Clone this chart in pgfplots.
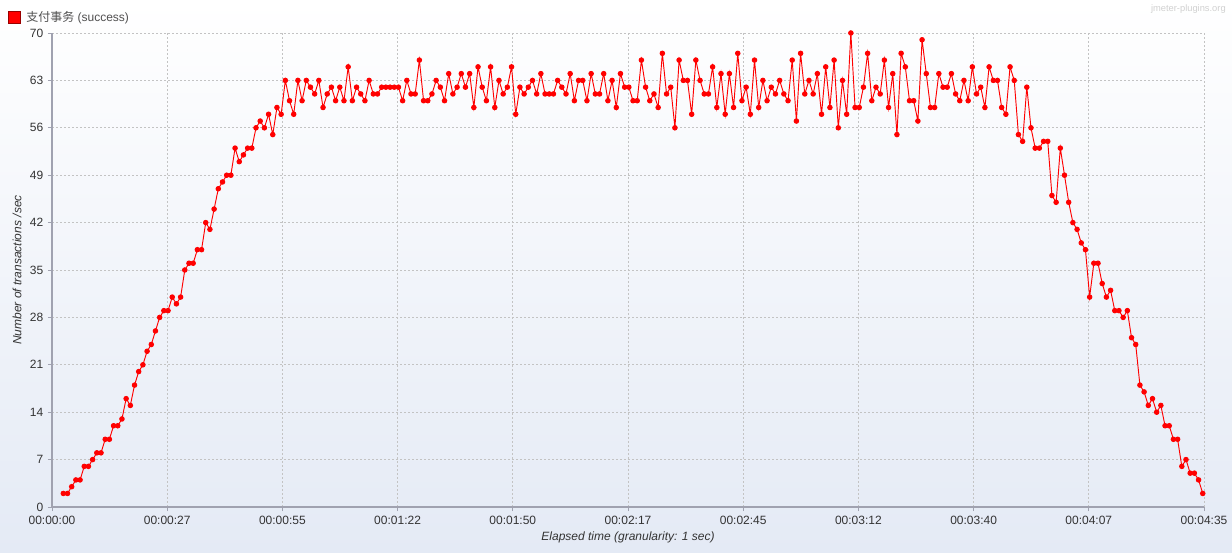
\documentclass[border=0pt]{standalone}
\usepackage{fontspec}
\setmainfont{Liberation Sans}
\newfontfamily\cjk{Noto Sans CJK SC}
\usepackage{pgfplots}
\pgfplotsset{compat=1.18}

\definecolor{bgbottom}{RGB}{228,234,245}
\definecolor{axisgray}{RGB}{160,162,176}
\definecolor{gridgray}{RGB}{195,195,195}
\definecolor{labelgray}{RGB}{51,51,51}
\definecolor{legendgray}{RGB}{80,80,80}

\begin{document}
\begin{tikzpicture}
% whole canvas, 1 px = 0.75 pt, origin at the plot's lower left corner
\path[use as bounding box] (-39pt,-34.5pt) rectangle (885pt,380.25pt);
\shade[top color=white,bottom color=bgbottom] (-39pt,-34.5pt) rectangle (885pt,380.25pt);

\begin{axis}[
    at={(0pt,0pt)}, anchor=south west,
    scale only axis,
    width=864pt, height=355.5pt,
    xmin=0, xmax=275,
    ymin=0, ymax=70,
    axis lines=left,
    axis line style={axisgray,-,line width=0.8pt},
    tick align=outside,
    major tick length=3pt,
    tick style={axisgray,line width=0.6pt},
    xtick={0,27.5,55,82.5,110,137.5,165,192.5,220,247.5,275},
    xticklabels={00:00:00,00:00:27,00:00:55,00:01:22,00:01:50,00:02:17,00:02:45,00:03:12,00:03:40,00:04:07,00:04:35},
    ytick={0,7,14,21,28,35,42,49,56,63,70},
    /pgf/number format/assume math mode=true,
    ticklabel style={font=\fontsize{9}{10}\selectfont,text=labelgray},
    grid=major,
    major grid style={gridgray,dash pattern=on 1.5pt off 1.5pt,line width=0.6pt},
    clip=false,
]
\addplot[color=red, line width=0.7pt, mark=*, mark size=1.7pt, mark options={fill=red,draw=red}]
coordinates {
(2.7,2)(3.7,2)(4.7,3)(5.7,4)(6.7,4)(7.7,6)(8.7,6)(9.7,7)(10.7,8)(11.7,8)
(12.7,10)(13.7,10)(14.7,12)(15.7,12)(16.7,13)(17.7,16)(18.7,15)(19.7,18)(20.7,20)(21.7,21)
(22.7,23)(23.7,24)(24.7,26)(25.7,28)(26.7,29)(27.7,29)(28.7,31)(29.7,30)(30.7,31)(31.7,35)
(32.7,36)(33.7,36)(34.7,38)(35.7,38)(36.7,42)(37.7,41)(38.7,44)(39.7,47)(40.7,48)(41.7,49)
(42.7,49)(43.7,53)(44.7,51)(45.7,52)(46.7,53)(47.7,53)(48.7,56)(49.7,57)(50.7,56)(51.7,58)
(52.7,55)(53.7,59)(54.7,58)(55.7,63)(56.7,60)(57.7,58)(58.7,63)(59.7,60)(60.7,63)(61.7,62)
(62.7,61)(63.7,63)(64.7,59)(65.7,61)(66.7,62)(67.7,60)(68.7,62)(69.7,60)(70.7,65)(71.7,60)
(72.7,62)(73.7,61)(74.7,60)(75.7,63)(76.7,61)(77.7,61)(78.7,62)(79.7,62)(80.7,62)(81.7,62)
(82.7,62)(83.7,60)(84.7,63)(85.7,61)(86.7,61)(87.7,66)(88.7,60)(89.7,60)(90.7,61)(91.7,63)
(92.7,62)(93.7,60)(94.7,64)(95.7,61)(96.7,62)(97.7,64)(98.7,62)(99.7,64)(100.7,59)(101.7,65)
(102.7,62)(103.7,60)(104.7,65)(105.7,59)(106.7,63)(107.7,61)(108.7,62)(109.7,65)(110.7,58)(111.7,62)
(112.7,61)(113.7,62)(114.7,63)(115.7,61)(116.7,64)(117.7,61)(118.7,61)(119.7,61)(120.7,63)(121.7,62)
(122.7,61)(123.7,64)(124.7,60)(125.7,63)(126.7,63)(127.7,60)(128.7,64)(129.7,61)(130.7,61)(131.7,64)
(132.7,60)(133.7,63)(134.7,59)(135.7,64)(136.7,62)(137.7,62)(138.7,60)(139.7,60)(140.7,66)(141.7,62)
(142.7,60)(143.7,61)(144.7,59)(145.7,67)(146.7,61)(147.7,62)(148.7,56)(149.7,66)(150.7,63)(151.7,63)
(152.7,58)(153.7,66)(154.7,63)(155.7,61)(156.7,61)(157.7,65)(158.7,59)(159.7,64)(160.7,58)(161.7,64)
(162.7,59)(163.7,67)(164.7,60)(165.7,62)(166.7,58)(167.7,66)(168.7,59)(169.7,63)(170.7,60)(171.7,62)
(172.7,61)(173.7,63)(174.7,61)(175.7,60)(176.7,66)(177.7,57)(178.7,67)(179.7,61)(180.7,63)(181.7,61)
(182.7,64)(183.7,58)(184.7,65)(185.7,59)(186.7,66)(187.7,56)(188.7,63)(189.7,58)(190.7,70)(191.7,59)
(192.7,59)(193.7,62)(194.7,67)(195.7,60)(196.7,62)(197.7,61)(198.7,66)(199.7,59)(200.7,64)(201.7,55)
(202.7,67)(203.7,65)(204.7,60)(205.7,60)(206.7,57)(207.7,69)(208.7,64)(209.7,59)(210.7,59)(211.7,64)
(212.7,62)(213.7,62)(214.7,64)(215.7,61)(216.7,60)(217.7,63)(218.7,60)(219.7,65)(220.7,61)(221.7,62)
(222.7,59)(223.7,65)(224.7,63)(225.7,63)(226.7,59)(227.7,58)(228.7,65)(229.7,63)(230.7,55)(231.7,54)
(232.7,62)(233.7,56)(234.7,53)(235.7,53)(236.7,54)(237.7,54)(238.7,46)(239.7,45)(240.7,53)(241.7,49)
(242.7,45)(243.7,42)(244.7,41)(245.7,39)(246.7,38)(247.7,31)(248.7,36)(249.7,36)(250.7,33)(251.7,31)
(252.7,32)(253.7,29)(254.7,29)(255.7,28)(256.7,29)(257.7,25)(258.7,24)(259.7,18)(260.7,17)(261.7,15)
(262.7,16)(263.7,14)(264.7,15)(265.7,12)(266.7,12)(267.7,10)(268.7,10)(269.7,6)(270.7,7)(271.7,5)
(272.7,5)(273.7,4)(274.7,2)
};
\end{axis}

% axis titles
\node[font=\fontsize{9}{10}\selectfont\itshape, text=labelgray] at (432pt,-22.5pt) {Elapsed time (granularity: 1 sec)};
\node[font=\fontsize{9}{10}\selectfont\itshape, text=labelgray, rotate=90] at (-26.25pt,177.75pt) {Number of transactions /sec};

% legend
\filldraw[fill=red, draw=red!60!black, line width=0.4pt] (-33pt,362.5pt) rectangle (-24pt,371.5pt);
\node[anchor=west, font=\fontsize{9}{10}\selectfont, text=legendgray, inner sep=0pt] at (-19.5pt,367pt) {{\cjk 支付事务} (success)};

% watermark
\node[anchor=east, font=\fontsize{7}{8}\selectfont, text=black!18, inner sep=0pt] at (880.5pt,373.5pt) {jmeter-plugins.org};
\end{tikzpicture}
\end{document}
